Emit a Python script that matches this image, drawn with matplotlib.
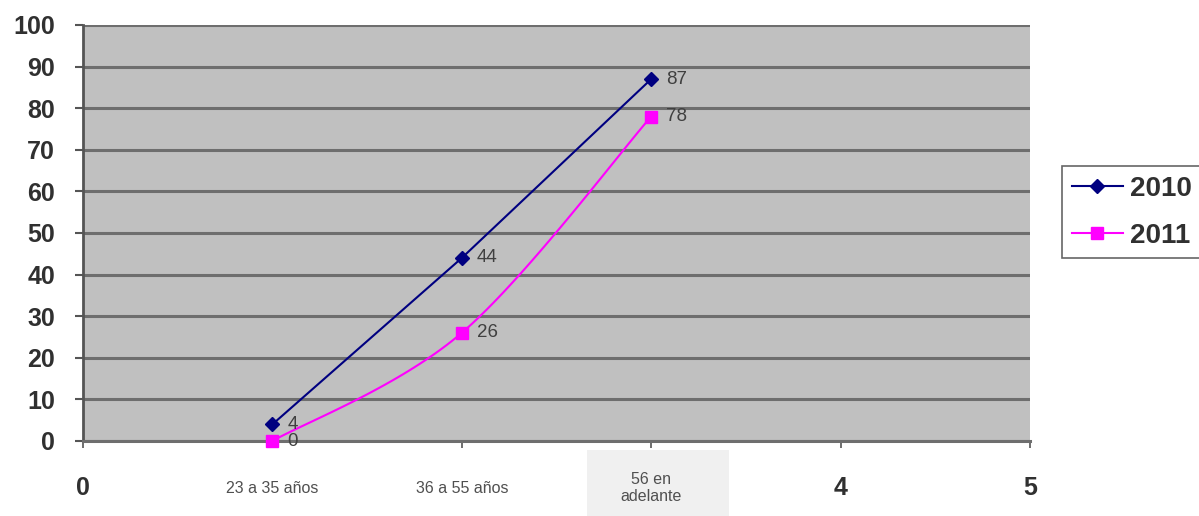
import numpy as np
import matplotlib
matplotlib.use("Agg")
import matplotlib.pyplot as plt
from matplotlib.patches import Rectangle
import matplotlib.transforms as mtransforms

plt.rcParams['font.family'] = ['Liberation Sans', 'DejaVu Sans']

# age groups sit at x = 1, 2, 3 on a 0..5 axis
x_pos = [1, 2, 3]
tick_labels = ["0", "23 a 35 años", "36 a 55 años", "56 en\nadelante", "4", "5"]
serie_2010 = [4, 44, 87]
serie_2011 = [0, 26, 78]
y_ticks = list(range(0, 101, 10))


def catmull_rom(xs, ys, n=40):
    # smoothed line through the points, like the spreadsheet "smooth line" option
    px = [xs[0]] + list(xs) + [xs[-1]]
    py = [ys[0]] + list(ys) + [ys[-1]]
    out_x, out_y = [], []
    for i in range(1, len(px) - 2):
        t = np.linspace(0, 1, n)
        for p, out in ((px, out_x), (py, out_y)):
            p0, p1, p2, p3 = p[i - 1], p[i], p[i + 1], p[i + 2]
            out.extend(0.5 * ((2 * p1) + (-p0 + p2) * t +
                              (2 * p0 - 5 * p1 + 4 * p2 - p3) * t ** 2 +
                              (-p0 + 3 * p1 - 3 * p2 + p3) * t ** 3))
    return out_x, out_y


fig = plt.figure(figsize=(11.99, 5.16), dpi=100)
ax = fig.add_axes([83 / 1199, 1 - 441 / 516, (1030 - 83) / 1199, (441 - 25) / 516])
ax.set_facecolor('#c0c0c0')
ax.set_xlim(0, 5)
ax.set_ylim(0, 100)

big = 18
ax.set_yticks(y_ticks)
ax.set_yticklabels([str(v) for v in y_ticks], fontsize=big, fontweight='bold', color='#303030')
ax.yaxis.grid(True, color='#6e6e6e', linewidth=2.2)
ax.set_axisbelow(True)
ax.tick_params(axis='y', direction='out', length=6, width=1.5, color='#555555', pad=14)

ax.set_xticks(range(6))
ax.set_xticklabels(tick_labels)
ax.tick_params(axis='x', direction='out', length=5, width=1.2, color='#555555', pad=29)
for i, lab in enumerate(ax.get_xticklabels()):
    lab.set_va('center')
    if i in (0, 4, 5):
        lab.set_fontsize(big)
        lab.set_fontweight('bold')
        lab.set_color('#303030')
    else:
        lab.set_fontsize(11.5)
        lab.set_color('#505050')

for side in ('top', 'right'):
    ax.spines[side].set_visible(False)
ax.spines['left'].set_color('#555555')
ax.spines['left'].set_linewidth(2)
ax.spines['bottom'].set_color('#6e6e6e')
ax.spines['bottom'].set_linewidth(2.2)

# light box behind the last category label
trans = mtransforms.blended_transform_factory(ax.transData, ax.transAxes)
ax.add_patch(Rectangle((2.66, -0.18), 0.75, 0.158, transform=trans,
                       facecolor='#f0f0f0', edgecolor='none', clip_on=False, zorder=0))

ax.plot(x_pos, serie_2010, color='#000080', linewidth=1.5, marker='D',
        markersize=7, label='2010', zorder=3, clip_on=False)
sx, sy = catmull_rom(x_pos, serie_2011)
ax.plot(sx, sy, color='#ff00ff', linewidth=1.5, zorder=3, clip_on=False)
ax.plot(x_pos, serie_2011, color='#ff00ff', linestyle='none', marker='s',
        markersize=8, zorder=4, clip_on=False)
# legend handle for the smoothed series
ax.plot([], [], color='#ff00ff', linewidth=1.5, marker='s', markersize=8, label='2011')

for xs, ys in ((x_pos, serie_2010), (x_pos, serie_2011)):
    for x, y in zip(xs, ys):
        ax.annotate(str(y), (x, y), xytext=(11, 0), textcoords='offset points',
                    va='center', ha='left', fontsize=13.5, color='#404040')

leg = fig.legend(loc='upper left', bbox_to_anchor=(1062 / 1199, 1 - 166 / 516),
                 borderaxespad=0, prop={'size': 20, 'weight': 'bold'},
                 frameon=True, fancybox=False, handlelength=1.85, labelspacing=0.75,
                 borderpad=0.35, handletextpad=0.25)
leg.get_frame().set_edgecolor('#404040')
leg.get_frame().set_linewidth(1.2)
for t in leg.get_texts():
    t.set_color('#303030')

fig.savefig('out.png', dpi=100)
